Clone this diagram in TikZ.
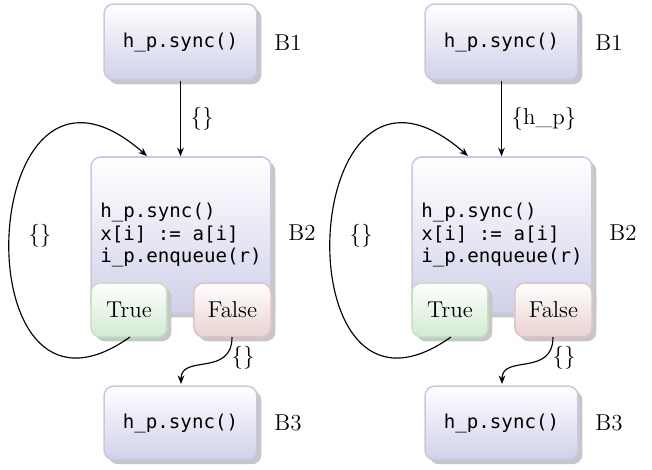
\documentclass[tikz,border=0pt]{standalone}
\usepackage{fontspec}
\setmonofont{DejaVu Sans Mono}
\usetikzlibrary{shadows,arrows.meta}
\definecolor{lavfill}{HTML}{D0D0EA}
\definecolor{lavdraw}{HTML}{C8C8E4}
\definecolor{grnfill}{HTML}{D2EAD2}
\definecolor{grndraw}{HTML}{C2E2C2}
\definecolor{redfill}{HTML}{EAD2D2}
\definecolor{reddraw}{HTML}{E2C2C2}
\tikzset{
  shadowed/.style={drop shadow={shadow xshift=2.3pt,shadow yshift=-2.3pt,fill=black!22,opacity=1}},
  blk/.style={shadowed,draw=lavdraw,line width=0.8pt,rounded corners=5pt,top color=white,bottom color=lavfill,
    font=\ttfamily,align=left,inner sep=4pt},
  truebox/.style={shadowed,draw=grndraw,line width=0.8pt,rounded corners=5pt,top color=white,bottom color=grnfill,
    minimum width=39.7pt,minimum height=28.2pt,font=\large},
  falsebox/.style={shadowed,draw=reddraw,line width=0.8pt,rounded corners=5pt,top color=white,bottom color=redfill,
    minimum width=40.3pt,minimum height=28.2pt,font=\large},
  conn/.style={draw,line width=0.6pt,-{Stealth[length=4.5pt,width=3.5pt]}},
  lbl/.style={inner sep=1pt,font=\large}
}
\begin{document}
\begin{tikzpicture}[x=0.523pt,y=-0.523pt]
\useasboundingbox (0,0) rectangle (652,470);
\foreach \dx/\nm/\lab in {0/L/{\{\}}, 321/R/{\{h\_p\}}} {
  \begin{scope}[xshift=\dx*0.523pt]
    \node[blk,minimum width=80pt,minimum height=39.7pt] (B1\nm) at (180.5,42) {h\_p.sync()};
    \node[lbl] (l1\nm) at (288,43) {B1};
    \node[blk,minimum width=94.1pt,minimum height=81.6pt] (B2\nm) at (181,235) {h\_p.sync()\\x[i] := a[i]\\i\_p.enqueue(r)};
    \node[lbl] (l2\nm) at (302,233) {B2};
    \node[truebox] (T\nm) at (129,310) {True};
    \node[falsebox] (F\nm) at (232.5,310) {False};
    \node[blk,minimum width=80pt,minimum height=38.5pt] (B3\nm) at (180.5,423) {h\_p.sync()};
    \node[lbl] (l3\nm) at (288,423) {B3};
    \coordinate (B2top\nm) at (147,156);
    \coordinate (Tbot\nm) at (130,337);
    \coordinate (Fbot\nm) at (232,337);
    \coordinate (B3top\nm) at (181,384);
    \path[conn] (B1\nm.south) -- node[right=4pt,lbl] (e1\nm) {\lab} (B1\nm.south |- B2\nm.north);
    \path[conn] (Tbot\nm) .. controls +(-172,122) and +(-172,-151) .. (B2top\nm);
    \node[lbl] (e2\nm) at (40,236) {\{\}};
    \path[conn] (Fbot\nm) .. controls +(0,40) and +(0,-30) .. (B3top\nm);
    \node[lbl] (e3\nm) at (243,358) {\{\}};
  \end{scope}
}
\end{tikzpicture}
\end{document}
